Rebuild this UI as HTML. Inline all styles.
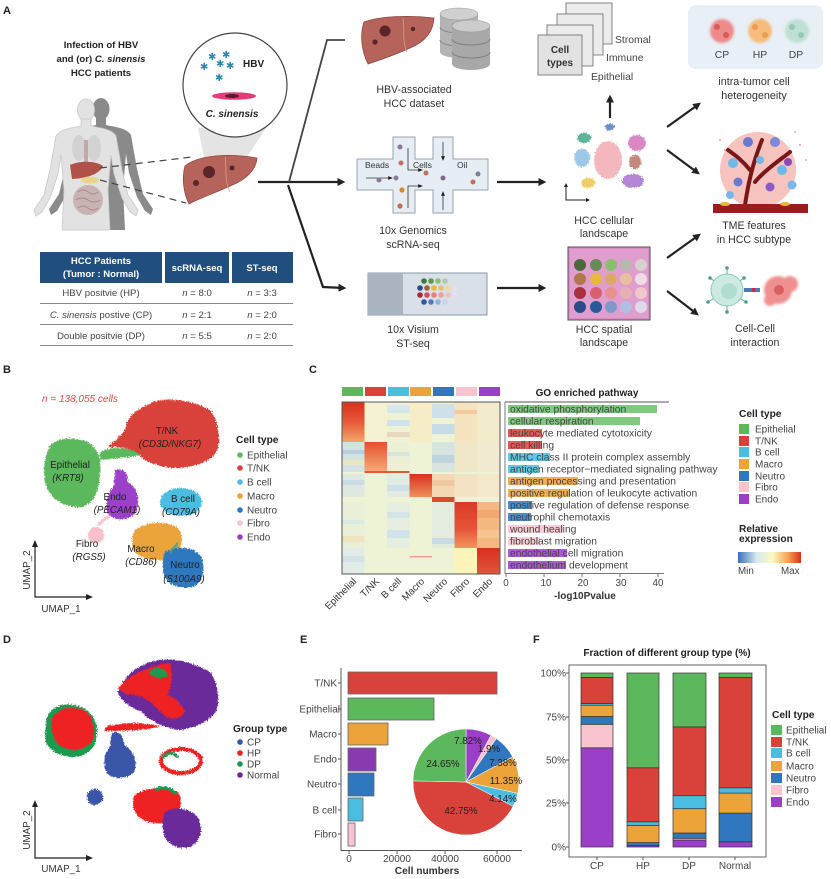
<!DOCTYPE html>
<html><head><meta charset="utf-8"><style>
html,body{margin:0;padding:0;background:#fff;}
svg{display:block;font-family:"Liberation Sans",Arial,sans-serif;}
</style></head><body>
<svg width="831" height="879" viewBox="0 0 831 879" xmlns="http://www.w3.org/2000/svg">
<defs>
<marker id="ah" viewBox="0 0 10 10" refX="7" refY="5" markerWidth="3.6" markerHeight="3.6" orient="auto"><path d="M0,0 L10,5 L0,10 z" fill="#222"/></marker>
<marker id="ahs" viewBox="0 0 10 10" refX="8" refY="5" markerWidth="6" markerHeight="6" orient="auto"><path d="M0,1 L10,5 L0,9 z" fill="#222"/></marker>
<filter id="grain" x="-15%" y="-15%" width="130%" height="130%"><feTurbulence type="fractalNoise" baseFrequency="0.8" numOctaves="1" seed="3" result="n"/><feDisplacementMap in="SourceGraphic" in2="n" scale="5" xChannelSelector="R" yChannelSelector="G"/></filter>
<filter id="soft"><feGaussianBlur stdDeviation="1.2"/></filter>
<linearGradient id="gEpi" x1="0" y1="0" x2="0" y2="1"><stop offset="0" stop-color="#d7301f"/><stop offset="0.5" stop-color="#e65a38"/><stop offset="1" stop-color="#f6a56c"/></linearGradient>
<linearGradient id="gTnk" x1="0" y1="0" x2="0" y2="1"><stop offset="0" stop-color="#e4502f"/><stop offset="1" stop-color="#f5ad78"/></linearGradient>
<linearGradient id="gMac" x1="0" y1="0" x2="0" y2="1"><stop offset="0" stop-color="#d7301f"/><stop offset="1" stop-color="#f0905a"/></linearGradient>
<linearGradient id="gFib" x1="0" y1="0" x2="0" y2="1"><stop offset="0" stop-color="#d93a26"/><stop offset="0.6" stop-color="#e6563a"/><stop offset="1" stop-color="#f2955c"/></linearGradient>
<linearGradient id="gEnd" x1="0" y1="0" x2="0" y2="1"><stop offset="0" stop-color="#d7301f"/><stop offset="1" stop-color="#e2553c"/></linearGradient>
<linearGradient id="gRel" x1="0" y1="0" x2="1" y2="0"><stop offset="0" stop-color="#3a6fb8"/><stop offset="0.3" stop-color="#d6ecf0"/><stop offset="0.55" stop-color="#fdf8c0"/><stop offset="0.8" stop-color="#f5a050"/><stop offset="1" stop-color="#d7301f"/></linearGradient>
</defs>

<!-- ================= PANEL A ================= -->
<text x="3" y="14" font-size="11" font-weight="bold" fill="#222">A</text>
<g font-size="9.6" font-weight="bold" fill="#222" text-anchor="middle">
<text x="101" y="48">Infection of HBV</text>
<text x="101" y="62">and (or) <tspan font-style="italic">C. sinensis</tspan></text>
<text x="101" y="76">HCC patients</text>
</g>

<!-- human figures -->
<g transform="translate(101,109)" fill="#8a8a8a">
<ellipse cx="0" cy="0" rx="8.5" ry="11"/>
<path d="M-5,9 L-5,16 C-14,18 -26,19 -30,26 L-36,60 L-42,85 L-52,100 L-50,106 L-44,102 L-36,88 L-28,64 L-25,45 L-22,80 L-24,121 L24,121 L22,80 L25,45 L28,64 L36,88 L44,102 L50,106 L52,100 L42,85 L36,60 L30,26 C26,19 14,18 5,16 L5,9 Z"/>
</g>
<g transform="translate(86,110)" fill="#e2e2e2" stroke="#c8c8c8" stroke-width="0.8">
<ellipse cx="0" cy="0" rx="8.5" ry="11"/>
<path d="M-5,9 L-5,16 C-14,18 -26,19 -30,26 L-36,60 L-42,85 L-52,100 L-50,106 L-44,102 L-36,88 L-28,64 L-25,45 L-22,80 L-24,120 L24,120 L22,80 L25,45 L28,64 L36,88 L44,102 L50,106 L52,100 L42,85 L36,60 L30,26 C26,19 14,18 5,16 L5,9 Z"/>
</g>
<ellipse cx="79" cy="148" rx="7" ry="13" fill="#d2d2d2"/>
<ellipse cx="94" cy="148" rx="7" ry="13" fill="#d2d2d2"/>
<rect x="84" y="140" width="4" height="30" fill="#c4a8a8"/>
<path d="M70,165 C80,160 97,161 103,166 C100,173 90,178 72,179 Z" fill="#b0524a"/>
<ellipse cx="90" cy="180" rx="9" ry="3.5" fill="#e8d48a"/>
<ellipse cx="88" cy="200" rx="15" ry="15" fill="#c9b4b4"/>
<path d="M78,192 q5,-4 10,0 t10,0 M76,200 q6,-4 12,0 t12,0 M78,208 q5,-4 10,0 t10,0" stroke="#a88" stroke-width="1" fill="none"/>

<!-- cone + circle -->
<polygon points="198,128 270,122 245,160 205,162" fill="#e4e4e4"/>
<circle cx="235" cy="85" r="52" fill="#fff" stroke="#444" stroke-width="1.2"/>
<g fill="#2a8aae" font-size="10" font-family="DejaVu Sans,sans-serif">
<text x="200" y="70">✱</text><text x="208" y="60">✱</text><text x="216" y="67">✱</text><text x="222" y="58">✱</text><text x="226" y="69">✱</text><text x="215" y="81">✱</text>
</g>
<text x="243" y="67" font-size="10" font-weight="bold" fill="#222">HBV</text>
<ellipse cx="234" cy="96" rx="22" ry="3.8" fill="#e43c78"/>
<ellipse cx="232" cy="96" rx="7" ry="2" fill="#5a1a2a"/>
<text x="232" y="117" font-size="10" font-weight="bold" font-style="italic" fill="#222" text-anchor="middle">C. sinensis</text>

<!-- liver -->
<path d="M185,166 C198,155 230,153 257,158 C256,170 246,180 230,186 C215,193 200,198 189,204 C183,192 182,177 185,166 Z" fill="#b6635b" stroke="#8e4842" stroke-width="0.8"/>
<path d="M225,157 C227,170 224,180 230,192" stroke="#d8a080" stroke-width="0.8" fill="none"/>
<circle cx="209" cy="172" r="6" fill="#5a2428"/><circle cx="196" cy="183" r="3" fill="#5a2428"/><circle cx="232" cy="168" r="2.5" fill="#5a2428"/>
<path d="M100,168 L192,157 M100,180 L186,203" stroke="#444" stroke-width="1.2" stroke-dasharray="7,5"/>

<!-- table -->
<rect x="40" y="252" width="122" height="31" fill="#1f4e7f"/>
<rect x="165" y="252" width="64" height="31" fill="#1f4e7f"/>
<rect x="232" y="252" width="61" height="31" fill="#1f4e7f"/>
<g fill="#fff" font-size="9.5" font-weight="bold" text-anchor="middle">
<text x="101" y="264">HCC Patients</text><text x="101" y="277">(Tumor : Normal)</text>
<text x="197" y="271">scRNA-seq</text><text x="262" y="271">ST-seq</text>
</g>
<g fill="#444" font-size="9.6" text-anchor="middle">
<text x="101" y="296">HBV positvie (HP)</text><text x="197" y="296"><tspan font-style="italic">n</tspan> = 8:0</text><text x="262" y="296"><tspan font-style="italic">n</tspan> = 3:3</text>
<text x="101" y="318"><tspan font-style="italic">C. sinensis</tspan> postive (CP)</text><text x="197" y="318"><tspan font-style="italic">n</tspan> = 2:1</text><text x="262" y="318"><tspan font-style="italic">n</tspan> = 2:0</text>
<text x="101" y="339">Double positvie (DP)</text><text x="197" y="339"><tspan font-style="italic">n</tspan> = 5:5</text><text x="262" y="339"><tspan font-style="italic">n</tspan> = 2:0</text>
</g>
<path d="M40,303.5 H293 M40,324.5 H293 M40,345.5 H293" stroke="#888" stroke-width="1"/>

<!-- main arrows -->
<g stroke="#222" stroke-width="2.2" fill="none">
<line x1="258" y1="182" x2="343" y2="182" marker-end="url(#ah)"/>
<polyline points="289,182 327,40 345,40" stroke="#444" stroke-width="1.8"/>
<polyline points="288,185 323,287 344,288" marker-end="url(#ah)"/>
<line x1="497" y1="182" x2="544" y2="182" marker-end="url(#ah)"/>
<line x1="497" y1="288" x2="544" y2="288" marker-end="url(#ah)"/>
<line x1="610" y1="118" x2="610" y2="97" marker-end="url(#ah)"/>
<line x1="667" y1="127" x2="699" y2="104" marker-end="url(#ah)"/>
<line x1="667" y1="150" x2="698" y2="173" marker-end="url(#ah)"/>
<line x1="667" y1="258" x2="699" y2="235" marker-end="url(#ah)"/>
<line x1="667" y1="291" x2="697" y2="314" marker-end="url(#ah)"/>
</g>

<!-- HBV dataset -->
<path d="M364,22 C380,16 410,15 434,18 C433,32 425,42 410,48 C395,55 380,60 368,64 C361,50 360,34 364,22 Z" fill="#b6635b" stroke="#8e4842" stroke-width="0.8"/>
<path d="M403,18 C405,32 402,42 407,52" stroke="#d8a080" stroke-width="0.8" fill="none"/>
<circle cx="385" cy="31" r="5.5" fill="#5a2428"/><circle cx="375" cy="42" r="2.6" fill="#5a2428"/><circle cx="413" cy="29" r="2.2" fill="#5a2428"/>
<g>
<path d="M440,14 v38 a19,6 0 0 0 38,0 v-38 z" fill="#b4b4b4"/>
<ellipse cx="459" cy="14" rx="19" ry="6" fill="#d0d0d0" stroke="#999" stroke-width="0.6"/>
<path d="M440,27 a19,6 0 0 0 38,0 M440,40 a19,6 0 0 0 38,0" stroke="#888" fill="none"/>
<path d="M452,26 v38 a19,6 0 0 0 38,0 v-38 z" fill="#a8a8a8"/>
<ellipse cx="471" cy="26" rx="19" ry="6" fill="#cccccc" stroke="#999" stroke-width="0.6"/>
<path d="M452,39 a19,6 0 0 0 38,0 M452,52 a19,6 0 0 0 38,0" stroke="#808080" fill="none"/>
</g>
<g font-size="10.6" fill="#333" text-anchor="middle">
<text x="414" y="93">HBV-associated</text><text x="414" y="107">HCC dataset</text>
</g>

<!-- 10x chip -->
<path d="M357,159 H393 V137 H415 V159 H433 V137 H453 V159 H488 V190 H453 V213 H433 V190 H415 V213 H393 V190 H357 Z" fill="#e6edf5" stroke="#9aa4b0" stroke-width="1"/>
<g font-size="8.5" fill="#333"><text x="365" y="168">Beads</text><text x="413" y="168">Cells</text><text x="457" y="168">Oil</text></g>
<g stroke="#333" stroke-width="0.8" fill="none">
<line x1="366" y1="178" x2="392" y2="178" marker-end="url(#ahs)"/>
<path d="M408,148 V170 H422" marker-end="url(#ahs)"/>
<path d="M408,208 V186 H422" marker-end="url(#ahs)"/>
<line x1="443" y1="142" x2="443" y2="160" marker-end="url(#ahs)"/>
<line x1="443" y1="210" x2="443" y2="192" marker-end="url(#ahs)"/>
</g>
<g>
<circle cx="400" cy="147" r="2.5" fill="#8a7a9a"/><circle cx="401" cy="163" r="2.5" fill="#c07060"/><circle cx="379" cy="180" r="2.5" fill="#8a7a9a"/><circle cx="396" cy="178" r="2.5" fill="#8a7a9a"/>
<circle cx="402" cy="190" r="2.6" fill="#d08830"/><circle cx="400" cy="206" r="2.6" fill="#c07050"/><circle cx="426" cy="173" r="2.5" fill="#c07060"/><circle cx="443" cy="178" r="2.5" fill="#7a6a8a"/>
<circle cx="478" cy="174" r="2.5" fill="#8a7a9a"/><circle cx="473" cy="182" r="2.5" fill="#c07060"/>
</g>
<g font-size="10.6" fill="#333" text-anchor="middle">
<text x="413" y="234">10x Genomics</text><text x="413" y="248">scRNA-seq</text>
</g>

<!-- visium slide -->
<rect x="368" y="273" width="119" height="42" fill="#d9e0e8" stroke="#8898a8" stroke-width="1"/>
<rect x="368" y="273" width="35" height="42" fill="#a9b4c0"/>
<g>
<circle cx="424" cy="281" r="2.8" fill="#3a7a3a"/><circle cx="431" cy="281" r="2.8" fill="#5a9a4a"/><circle cx="438" cy="281" r="2.8" fill="#8ac070"/><circle cx="445" cy="281" r="2.8" fill="#b8c8a8"/>
<circle cx="420" cy="288" r="2.8" fill="#2a4a8a"/><circle cx="427" cy="288" r="2.8" fill="#a86030"/><circle cx="434" cy="288" r="2.8" fill="#e8b840"/><circle cx="441" cy="288" r="2.8" fill="#e8c070"/><circle cx="448" cy="288" r="2.8" fill="#f0d8a0"/><circle cx="455" cy="288" r="2.8" fill="#e8e0e8"/>
<circle cx="420" cy="295" r="2.8" fill="#a82838"/><circle cx="427" cy="295" r="2.8" fill="#d05060"/><circle cx="434" cy="295" r="2.8" fill="#e88080"/><circle cx="441" cy="295" r="2.8" fill="#e8a0a0"/><circle cx="448" cy="295" r="2.8" fill="#f0c0c0"/><circle cx="455" cy="295" r="2.8" fill="#e8e0f0"/>
<circle cx="424" cy="302" r="2.8" fill="#2a5a98"/><circle cx="431" cy="302" r="2.8" fill="#5878b8"/><circle cx="438" cy="302" r="2.8" fill="#98b0d8"/><circle cx="445" cy="302" r="2.8" fill="#c8d4e8"/>
</g>
<g font-size="10.6" fill="#333" text-anchor="middle">
<text x="413" y="333">10x Visium</text><text x="413" y="347">ST-seq</text>
</g>

<!-- cell type cards -->
<g fill="#ececec" stroke="#777" stroke-width="0.9">
<rect x="566" y="3" width="46" height="41"/>
<rect x="557" y="14" width="46" height="41"/>
<rect x="547" y="25" width="46" height="41"/>
<rect x="538" y="35" width="44" height="40" fill="#e2e2e2"/>
</g>
<g font-size="10" font-weight="bold" fill="#333" text-anchor="middle"><text x="560" y="53">Cell</text><text x="560" y="66">types</text></g>
<g font-size="10.4" fill="#444"><text x="615" y="43">Stromal</text><text x="606" y="61">Immune</text><text x="591" y="80">Epithelial</text></g>

<!-- mini umap -->
<g filter="url(#grain)" opacity="0.75">
<ellipse cx="584" cy="138" rx="7" ry="5" fill="#2a9a7a"/>
<ellipse cx="610" cy="127" rx="5" ry="3.5" fill="#3a6ab8"/>
<ellipse cx="582" cy="158" rx="8" ry="9" fill="#7ab8e0"/>
<ellipse cx="608" cy="160" rx="14" ry="19" fill="#f0a0a8"/>
<ellipse cx="637" cy="143" rx="9" ry="8" fill="#d060b0"/>
<ellipse cx="635" cy="162" rx="6" ry="7" fill="#b06050"/>
<ellipse cx="633" cy="181" rx="11" ry="7" fill="#9a60c8"/>
<ellipse cx="588" cy="183" rx="7" ry="5" fill="#e8c030"/>
</g>
<path d="M566,185 V200 H588" stroke="#222" stroke-width="1" fill="none"/>
<path d="M564,187 L566,183 L568,187 Z M586,198 L590,200 L586,202 Z" fill="#222"/>
<g font-size="10.6" fill="#333" text-anchor="middle"><text x="604" y="224">HCC cellular</text><text x="604" y="237">landscape</text></g>

<!-- spatial image -->
<rect x="568" y="247" width="82" height="73" fill="#d88ec4" stroke="#555" stroke-width="1"/>
<rect x="570" y="249" width="78" height="69" fill="#e4a8d4" opacity="0.6"/>
<g>
<circle cx="580" cy="265" r="6" fill="#4a6a3c"/><circle cx="596" cy="265" r="6" fill="#6a8a5a"/><circle cx="611" cy="265" r="6" fill="#88c070"/><circle cx="626" cy="265" r="6" fill="#b8b8b0"/><circle cx="641" cy="265" r="6" fill="#d8d0cc"/>
<circle cx="580" cy="279" r="6" fill="#b07848"/><circle cx="596" cy="279" r="6" fill="#e8b840"/><circle cx="611" cy="279" r="6" fill="#e0a868"/><circle cx="626" cy="279" r="6" fill="#e8c0a0"/><circle cx="641" cy="279" r="6" fill="#f0dce4"/>
<circle cx="580" cy="293" r="6" fill="#a83040"/><circle cx="596" cy="293" r="6" fill="#d86070"/><circle cx="611" cy="293" r="6" fill="#e89090"/><circle cx="626" cy="293" r="6" fill="#e8b0b0"/><circle cx="641" cy="293" r="6" fill="#f0c8cc"/>
<circle cx="580" cy="307" r="6" fill="#2a4a88"/><circle cx="596" cy="307" r="6" fill="#2a5898"/><circle cx="611" cy="307" r="6" fill="#8098c8"/><circle cx="626" cy="307" r="6" fill="#b0c0e0"/><circle cx="641" cy="307" r="6" fill="#dcdce8"/>
</g>
<g font-size="10.6" fill="#333" text-anchor="middle"><text x="604" y="333">HCC spatial</text><text x="604" y="346">landscape</text></g>

<!-- heterogeneity box -->
<rect x="688" y="5" width="135" height="64" rx="8" fill="#e8eff6"/>
<g filter="url(#soft)">
<circle cx="722" cy="31" r="12" fill="#ee8a8a"/><circle cx="760" cy="31" r="12" fill="#f6bc7c"/><circle cx="797" cy="31" r="12" fill="#bfe0d4"/>
</g>
<g>
<circle cx="717" cy="27" r="3" fill="#d85a5a"/><circle cx="726" cy="35" r="3" fill="#d85a5a"/><circle cx="755" cy="27" r="3" fill="#e8a050"/><circle cx="765" cy="35" r="3" fill="#e8a050"/><circle cx="792" cy="27" r="3" fill="#98c8b8"/><circle cx="801" cy="35" r="3" fill="#98c8b8"/>
</g>
<g font-size="10.4" fill="#444" text-anchor="middle"><text x="722" y="58">CP</text><text x="760" y="58">HP</text><text x="796" y="58">DP</text></g>
<g font-size="10.8" fill="#333" text-anchor="middle"><text x="754" y="85">intra-tumor cell</text><text x="754" y="99">heterogeneity</text></g>

<!-- TME image -->
<circle cx="758" cy="170" r="38" fill="#f4b8b4" opacity="0.85"/>
<g fill="#d88080" opacity="0.6"><circle cx="725" cy="150" r="1.2"/><circle cx="800" cy="145" r="1.2"/><circle cx="806" cy="160" r="1"/><circle cx="720" cy="140" r="1"/><circle cx="795" cy="132" r="1"/></g>
<path d="M745,205 C748,185 752,165 762,140 M755,182 C765,170 780,160 790,152 M750,170 C742,160 735,155 728,150" stroke="#7a1818" stroke-width="4" fill="none" stroke-linecap="round"/>
<g>
<circle cx="748" cy="142" r="5" fill="#6a7ad0"/><circle cx="775" cy="142" r="5" fill="#7a8ad8"/><circle cx="733" cy="163" r="5" fill="#70b8e8"/><circle cx="782" cy="170" r="5" fill="#70b8e8"/><circle cx="770" cy="187" r="4.5" fill="#8a5ac8"/><circle cx="792" cy="185" r="4.5" fill="#7ab8e8"/><circle cx="738" cy="182" r="4.5" fill="#6a7ad0"/><circle cx="788" cy="162" r="4" fill="#8a4ab8"/><circle cx="760" cy="160" r="4" fill="#70b8e8"/><circle cx="730" cy="195" r="4" fill="#7ab8e8"/>
</g>
<rect x="713" y="204" width="95" height="9" fill="#9a1c1c"/>
<g fill="#e8b838"><ellipse cx="725" cy="204" rx="5" ry="2"/><ellipse cx="785" cy="204" rx="5" ry="2"/></g>
<g font-size="10.6" fill="#333" text-anchor="middle"><text x="754" y="229">TME features</text><text x="754" y="243">in  HCC subtype</text></g>

<!-- cell-cell -->
<g stroke="#5aa8a0" stroke-width="1"><line x1="727" y1="290" x2="727" y2="268"/><line x1="727" y1="290" x2="710" y2="278"/><line x1="727" y1="290" x2="744" y2="278"/><line x1="727" y1="290" x2="708" y2="302"/><line x1="727" y1="290" x2="746" y2="302"/><line x1="727" y1="290" x2="727" y2="312"/></g>
<g fill="#4a9a98"><circle cx="727" cy="268" r="1.8"/><circle cx="710" cy="278" r="1.8"/><circle cx="744" cy="278" r="1.8"/><circle cx="708" cy="302" r="1.8"/><circle cx="746" cy="302" r="1.8"/><circle cx="727" cy="312" r="1.8"/></g>
<circle cx="727" cy="290" r="16" fill="#cce9e2" stroke="#8ac8bc" stroke-width="1"/>
<circle cx="729" cy="291" r="8" fill="#b0dcd2"/>
<rect x="744" y="288" width="16" height="4" fill="#4a7ab8"/><rect x="752" y="288" width="3" height="4" fill="#c03040"/>
<g fill="#ef9090" filter="url(#soft)"><circle cx="778" cy="290" r="14"/><circle cx="790" cy="284" r="8"/><circle cx="770" cy="300" r="6"/></g>
<circle cx="779" cy="290" r="5" fill="#d86060"/>
<g font-size="10.6" fill="#333" text-anchor="middle"><text x="755" y="332">Cell-Cell</text><text x="755" y="346">interaction</text></g>

<!-- ================= PANEL B ================= -->
<text x="3" y="373" font-size="11" font-weight="bold" fill="#222">B</text>
<text x="42" y="402" font-size="10" font-style="italic" fill="#e04848"><tspan>n</tspan> = 138,055 cells</text>
<g filter="url(#grain)">
<path d="M125,428 C128,415 140,406 160,400 C180,398 200,404 210,410 C218,420 220,435 218,448 C214,460 200,466 178,468 C160,468 145,462 138,454 C130,448 120,447 108,447 C115,440 122,436 125,428 Z" fill="#d9423a"/>
<path d="M100,452 C112,446 128,446 140,455 C130,458 115,458 100,460 Z" fill="#5cb85c"/>
<path d="M48,450 C52,440 65,436 80,440 C95,442 102,455 100,470 C100,488 96,502 82,507 C66,508 52,500 47,488 C42,476 44,460 48,450 Z" fill="#5cb85c"/>
<path d="M115,470 C122,468 128,472 128,482 C138,488 140,500 136,512 C130,520 115,522 108,514 C104,505 108,492 114,486 Z" fill="#9b3fc8"/>
<ellipse cx="181" cy="502" rx="21" ry="14" fill="#4bbde0"/>
<path d="M135,530 C145,522 165,520 178,528 C185,535 182,552 172,558 C160,562 142,560 135,552 C131,545 131,536 135,530 Z" fill="#eba33a"/>
<path d="M165,552 C175,546 192,546 200,555 C206,565 204,580 195,586 C183,590 168,586 164,576 C162,568 162,558 165,552 Z" fill="#2f78c0"/>
<ellipse cx="96" cy="535" rx="8" ry="8" fill="#f7c0cc"/>
<path d="M98,525 L110,515" stroke="#f7c0cc" stroke-width="3"/>
<path d="M170,552 L178,543" stroke="#4aa880" stroke-width="2"/>
</g>
<g font-size="9.8" fill="#222" text-anchor="middle">
<text x="167" y="434">T/NK</text><text x="170" y="447" font-style="italic">(CD3D/NKG7)</text>
<text x="70" y="468">Epithelial</text><text x="68" y="481" font-style="italic">(KRT8)</text>
<text x="115" y="500">Endo</text><text x="117" y="513" font-style="italic">(PECAM1)</text>
<text x="183" y="502">B cell</text><text x="181" y="515" font-style="italic">(CD79A)</text>
<text x="141" y="552">Macro</text><text x="141" y="565" font-style="italic">(CD86)</text>
<text x="185" y="568">Neutro</text><text x="184" y="582" font-style="italic">(S100A9)</text>
<text x="87" y="547">Fibro</text><text x="89" y="560" font-style="italic">(RGS5)</text>
</g>
<path d="M35,545 V597 H88" stroke="#222" stroke-width="1.2" fill="none"/>
<path d="M32,547 L35,540 L38,547 Z M86,594 L93,597 L86,600 Z" fill="#222"/>
<text x="30" y="570" font-size="9.8" fill="#333" text-anchor="middle" transform="rotate(-90,30,570)">UMAP_2</text>
<text x="61" y="612" font-size="9.8" fill="#333" text-anchor="middle">UMAP_1</text>
<text x="236" y="443" font-size="10.2" font-weight="bold" fill="#222">Cell type</text>
<g font-size="10" fill="#444">
<circle cx="240" cy="455" r="2.8" fill="#5cb85c"/><text x="247" y="458.5">Epithelial</text>
<circle cx="240" cy="468" r="2.8" fill="#d9423a"/><text x="247" y="471.5">T/NK</text>
<circle cx="240" cy="482" r="2.8" fill="#4bbde0"/><text x="247" y="485.5">B cell</text>
<circle cx="240" cy="496" r="2.8" fill="#eba33a"/><text x="247" y="499.5">Macro</text>
<circle cx="240" cy="510" r="2.8" fill="#2f78c0"/><text x="247" y="513.5">Neutro</text>
<circle cx="240" cy="523" r="2.8" fill="#f7c0cc"/><text x="247" y="526.5">Fibro</text>
<circle cx="240" cy="537" r="2.8" fill="#9b3fc8"/><text x="247" y="540.5">Endo</text>
</g>

<!-- ================= PANEL C ================= -->
<text x="309" y="373" font-size="11" font-weight="bold" fill="#222">C</text>
<g>
<rect x="342" y="387" width="21" height="9" fill="#5cb85c"/>
<rect x="365" y="387" width="21" height="9" fill="#d9423a"/>
<rect x="388" y="387" width="21" height="9" fill="#4bbde0"/>
<rect x="410" y="387" width="21" height="9" fill="#eba33a"/>
<rect x="433" y="387" width="21" height="9" fill="#2f78c0"/>
<rect x="456" y="387" width="21" height="9" fill="#f9c4d0"/>
<rect x="479" y="387" width="21" height="9" fill="#9b3fc8"/>
</g>
<!-- heatmap -->
<rect x="342" y="402" width="158" height="172" fill="#eef3d6"/>
<g>
<rect x="364.5" y="402" width="22.5" height="40" fill="#f4f2d0"/>
<rect x="387" y="405" width="22.5" height="8" fill="#d6e6ea"/><rect x="387" y="420" width="22.5" height="6" fill="#d0e0ec"/><rect x="387" y="432" width="22.5" height="5" fill="#e8d8c0"/>
<rect x="409.5" y="402" width="22.5" height="40" fill="#f6edc8"/>
<rect x="432" y="404" width="22.5" height="14" fill="#cfe0ea"/><rect x="432" y="424" width="22.5" height="10" fill="#c8dce8"/>
<rect x="454.5" y="402" width="22.5" height="40" fill="#f6e4c0"/><rect x="454.5" y="410" width="22.5" height="4" fill="#f2c8a0"/>
<rect x="477" y="402" width="23" height="40" fill="#f3eccc"/>
<rect x="342" y="442" width="22.5" height="30" fill="#d4e2e2"/><rect x="342" y="450" width="22.5" height="4" fill="#b8d0dc"/><rect x="342" y="460" width="22.5" height="5" fill="#e8e6c4"/>
<rect x="387" y="442" width="22.5" height="30" fill="#ecf0d4"/><rect x="387" y="452" width="22.5" height="4" fill="#d8e4dc"/>
<rect x="432" y="442" width="22.5" height="30" fill="#d8e4e0"/><rect x="432" y="455" width="22.5" height="8" fill="#c0d4e0"/>
<rect x="454.5" y="442" width="22.5" height="30" fill="#f0e6c8"/><rect x="477" y="442" width="23" height="30" fill="#f2ead0"/>
<rect x="342" y="474" width="22.5" height="23" fill="#dfe9e2"/><rect x="342" y="480" width="22.5" height="5" fill="#cadce4"/>
<rect x="387" y="474" width="22.5" height="23" fill="#e2ece2"/><rect x="387" y="485" width="22.5" height="6" fill="#d0e0e8"/>
<rect x="432" y="474" width="22.5" height="23" fill="#f4d8b4"/><rect x="432" y="480" width="22.5" height="6" fill="#f0c8a4"/>
<rect x="454.5" y="474" width="22.5" height="23" fill="#f4e2c4"/><rect x="477" y="474" width="23" height="23" fill="#f4e8cc"/>
<rect x="342" y="502" width="22.5" height="46" fill="#eaf0d8"/><rect x="342" y="520" width="22.5" height="4" fill="#dce8e4"/><rect x="342" y="536" width="22.5" height="6" fill="#f0e4c0"/>
<rect x="387" y="502" width="22.5" height="46" fill="#e6eee0"/><rect x="387" y="512" width="22.5" height="6" fill="#d4e4e8"/><rect x="387" y="530" width="22.5" height="8" fill="#d0e2ea"/>
<rect x="432" y="502" width="22.5" height="46" fill="#e4ece0"/><rect x="432" y="538" width="22.5" height="6" fill="#c8dce6"/>
<rect x="477" y="502" width="23" height="46" fill="#f4b880"/><rect x="477" y="510" width="23" height="8" fill="#f2a870"/><rect x="477" y="530" width="23" height="8" fill="#f6c490"/>
<rect x="342" y="548" width="22.5" height="26" fill="#e2ece6"/><rect x="342" y="556" width="22.5" height="6" fill="#d4e2e6"/>
<rect x="454.5" y="548" width="22.5" height="26" fill="#fcf4b8"/>
<rect x="409.5" y="556" width="22.5" height="1.5" fill="#e8a0a0"/>
<rect x="342" y="402" width="22.5" height="40" fill="url(#gEpi)"/>
<rect x="364.5" y="442" width="22.5" height="30" fill="url(#gTnk)"/>
<rect x="364.5" y="471" width="45" height="2" fill="#e05a3a"/>
<rect x="409.5" y="474" width="22.5" height="23" fill="url(#gMac)"/>
<rect x="432" y="497" width="22.5" height="5" fill="#d94a30"/>
<rect x="454.5" y="502" width="22.5" height="46" fill="url(#gFib)"/>
<rect x="477" y="548" width="23" height="26" fill="url(#gEnd)"/>
</g>
<rect x="342" y="402" width="158" height="172" fill="none" stroke="#555" stroke-width="1"/>
<g font-size="9.8" fill="#333" text-anchor="end">
<text x="357" y="582" transform="rotate(-45,357,582)">Epithelial</text>
<text x="380" y="582" transform="rotate(-45,380,582)">T/NK</text>
<text x="402" y="582" transform="rotate(-45,402,582)">B cell</text>
<text x="425" y="582" transform="rotate(-45,425,582)">Macro</text>
<text x="448" y="582" transform="rotate(-45,448,582)">Neutro</text>
<text x="470" y="582" transform="rotate(-45,470,582)">Fibro</text>
<text x="493" y="582" transform="rotate(-45,493,582)">Endo</text>
</g>

<!-- GO bars -->
<text x="587" y="396" font-size="10" font-weight="bold" fill="#222" text-anchor="middle">GO enriched pathway</text>
<line x1="505" y1="402" x2="669" y2="402" stroke="#777" stroke-width="1.2"/>
<line x1="505" y1="402" x2="505" y2="574" stroke="#777" stroke-width="1"/>
<line x1="505" y1="573.5" x2="664" y2="573.5" stroke="#777" stroke-width="1"/>
<g stroke="#777"><line x1="506" y1="574" x2="506" y2="577"/><line x1="544" y1="574" x2="544" y2="577"/><line x1="582" y1="574" x2="582" y2="577"/><line x1="620" y1="574" x2="620" y2="577"/><line x1="658" y1="574" x2="658" y2="577"/></g>
<g font-size="9.8" fill="#444" text-anchor="middle"><text x="506" y="586">0</text><text x="546" y="586">10</text><text x="583" y="586">20</text><text x="621" y="586">30</text><text x="658" y="586">40</text></g>
<text x="585" y="599" font-size="10" font-weight="bold" fill="#333" text-anchor="middle">-log10Pvalue</text>
<g opacity="0.85">
<rect x="508" y="405" width="149" height="8" fill="#6cc06c"/>
<rect x="508" y="417" width="132" height="8" fill="#6cc06c"/>
<rect x="508" y="429" width="34" height="8" fill="#d9423a"/>
<rect x="508" y="441" width="34" height="8" fill="#d9423a"/>
<rect x="508" y="453" width="42" height="8" fill="#4bbde0"/>
<rect x="508" y="465" width="31" height="8" fill="#4bbde0"/>
<rect x="508" y="477" width="70" height="8" fill="#eba33a"/>
<rect x="508" y="489" width="62" height="8" fill="#eba33a"/>
<rect x="508" y="501" width="24" height="8" fill="#2f78c0"/>
<rect x="508" y="513" width="23" height="8" fill="#2f78c0"/>
<rect x="508" y="525" width="55" height="8" fill="#f9c4d0"/>
<rect x="508" y="537" width="32" height="8" fill="#f9c4d0"/>
<rect x="508" y="549" width="59" height="8" fill="#9b3fc8"/>
<rect x="508" y="561" width="58" height="8" fill="#9b3fc8"/>
</g>
<g font-size="10.3" fill="#444">
<text x="510" y="412.5">oxidative phosphorylation</text>
<text x="510" y="424.5">cellular respiration</text>
<text x="510" y="436.5">leukocyte mediated cytotoxicity</text>
<text x="510" y="448.5">cell killing</text>
<text x="510" y="460.5">MHC class II protein complex assembly</text>
<text x="510" y="472.5">antigen receptor−mediated signaling pathway</text>
<text x="510" y="484.5">antigen processing and presentation</text>
<text x="510" y="496.5">positive regulation of leukocyte activation</text>
<text x="510" y="508.5">positive regulation of defense response</text>
<text x="510" y="520.5">neutrophil chemotaxis</text>
<text x="510" y="532.5">wound healing</text>
<text x="510" y="544.5">fibroblast migration</text>
<text x="510" y="556.5">endothelial cell migration</text>
<text x="510" y="568.5">endothelium development</text>
</g>
<text x="739" y="417" font-size="10.2" font-weight="bold" fill="#222">Cell type</text>
<g font-size="10" fill="#444">
<rect x="739" y="424" width="10" height="10" fill="#5cb85c"/><text x="755" y="432.5">Epithelial</text>
<rect x="739" y="436" width="10" height="10" fill="#d9423a"/><text x="755" y="444.5">T/NK</text>
<rect x="739" y="447" width="10" height="10" fill="#4bbde0"/><text x="755" y="455.5">B cell</text>
<rect x="739" y="459" width="10" height="10" fill="#eba33a"/><text x="755" y="467.5">Macro</text>
<rect x="739" y="471" width="10" height="10" fill="#2f78c0"/><text x="755" y="479.5">Neutro</text>
<rect x="739" y="482" width="10" height="10" fill="#f9c4d0"/><text x="755" y="490.5">Fibro</text>
<rect x="739" y="494" width="10" height="10" fill="#9b3fc8"/><text x="755" y="502.5">Endo</text>
</g>
<g font-size="10.2" font-weight="bold" fill="#222"><text x="739" y="532">Relative</text><text x="739" y="542">expression</text></g>
<rect x="738" y="552" width="63" height="11" fill="url(#gRel)"/>
<g font-size="9.8" fill="#444"><text x="738" y="574">Min</text><text x="781" y="574">Max</text></g>

<!-- ================= PANEL D ================= -->
<text x="3" y="643" font-size="11" font-weight="bold" fill="#222">D</text>
<g filter="url(#grain)">
<path d="M120,688 C128,670 145,662 160,660 C180,658 198,665 210,672 C218,682 220,700 216,712 C208,722 195,728 180,730 C165,728 150,722 142,712 C130,708 120,700 118,692 Z" fill="#6a2a9a"/>
<path d="M118,688 C128,675 150,665 170,663 C175,680 168,700 160,712 C150,700 140,694 125,694 Z" fill="#ee2020"/>
<path d="M160,700 C168,690 180,700 185,712 C178,722 165,720 160,710 Z" fill="#ee2020"/>
<path d="M150,670 C158,665 166,668 168,676 C162,680 155,678 150,674 Z" fill="#1a9a50"/>
<path d="M105,727 C120,722 140,722 160,726 C150,730 125,731 105,731 Z" fill="#ee2020"/>
<path d="M46,720 C50,706 64,702 78,706 C92,710 98,722 97,735 C96,748 88,756 74,757 C60,757 48,750 45,740 Z" fill="#1a9a50"/>
<path d="M52,718 C58,708 72,706 84,710 C94,716 96,730 92,742 C85,750 70,752 60,746 C52,738 50,728 52,718 Z" fill="#ee2020"/>
<path d="M112,733 C120,730 124,738 124,745 C134,750 138,762 134,772 C126,780 112,780 106,772 C102,762 106,752 110,746 Z" fill="#3a55a8"/>
<ellipse cx="95" cy="797" rx="8" ry="8" fill="#3a55a8"/>
<ellipse cx="181" cy="761" rx="20" ry="12" fill="none" stroke="#ee2020" stroke-width="4"/>
<path d="M162,758 C168,752 175,752 178,758" stroke="#1a9a50" stroke-width="3" fill="none"/>
<path d="M135,795 C145,787 165,786 178,792 C184,800 180,815 170,822 C158,826 142,822 136,814 C132,806 132,800 135,795 Z" fill="#ee2020"/>
<path d="M165,812 C175,806 192,808 198,818 C204,830 200,842 190,847 C178,850 168,845 164,835 C162,828 162,818 165,812 Z" fill="#6a2a9a"/>
<path d="M155,790 C162,786 172,788 176,794" stroke="#1a9a50" stroke-width="3" fill="none"/>
</g>
<path d="M35,805 V858 H88" stroke="#222" stroke-width="1.2" fill="none"/>
<path d="M32,807 L35,800 L38,807 Z M86,855 L93,858 L86,861 Z" fill="#222"/>
<text x="30" y="830" font-size="9.8" fill="#333" text-anchor="middle" transform="rotate(-90,30,830)">UMAP_2</text>
<text x="61" y="872" font-size="9.8" fill="#333" text-anchor="middle">UMAP_1</text>
<text x="233" y="732" font-size="10.2" font-weight="bold" fill="#222">Group type</text>
<g font-size="10" fill="#444">
<circle cx="240" cy="742" r="2.8" fill="#3a55a8"/><text x="247" y="745.5">CP</text>
<circle cx="240" cy="753" r="2.8" fill="#ee2020"/><text x="247" y="756.5">HP</text>
<circle cx="240" cy="764" r="2.8" fill="#1a9a50"/><text x="247" y="767.5">DP</text>
<circle cx="240" cy="775" r="2.8" fill="#6a2a9a"/><text x="247" y="778.5">Normal</text>
</g>

<!-- ================= PANEL E ================= -->
<text x="300" y="643" font-size="11" font-weight="bold" fill="#222">E</text>
<path d="M341,668 V850.5 H522" stroke="#555" stroke-width="1" fill="none"/>
<g stroke="#666" stroke-width="0.8">
<rect x="348" y="672" width="149" height="22" fill="#d9423a"/>
<rect x="348" y="698" width="86" height="22" fill="#5cb85c"/>
<rect x="348" y="723" width="40" height="22" fill="#eba33a"/>
<rect x="348" y="748" width="28" height="23" fill="#8a3ab0"/>
<rect x="348" y="773" width="26" height="23" fill="#2f78c0"/>
<rect x="348" y="798" width="15" height="23" fill="#4bbde0"/>
<rect x="348" y="823" width="7" height="23" fill="#f9c4d0"/>
</g>
<g stroke="#555"><line x1="338" y1="683" x2="341" y2="683"/><line x1="338" y1="709" x2="341" y2="709"/><line x1="338" y1="734" x2="341" y2="734"/><line x1="338" y1="759" x2="341" y2="759"/><line x1="338" y1="784" x2="341" y2="784"/><line x1="338" y1="810" x2="341" y2="810"/><line x1="338" y1="834" x2="341" y2="834"/>
<line x1="349" y1="851" x2="349" y2="854"/><line x1="397" y1="851" x2="397" y2="854"/><line x1="445" y1="851" x2="445" y2="854"/><line x1="497" y1="851" x2="497" y2="854"/></g>
<g font-size="10" fill="#444" text-anchor="end">
<text x="337" y="686.5">T/NK</text><text x="340" y="712.5">Epithelial</text><text x="337" y="737.5">Macro</text><text x="337" y="762.5">Endo</text><text x="337" y="787.5">Neutro</text><text x="337" y="813.5">B cell</text><text x="337" y="837.5">Fibro</text>
</g>
<g font-size="10" fill="#444" text-anchor="middle"><text x="349" y="862">0</text><text x="397" y="862">20000</text><text x="445" y="862">40000</text><text x="497" y="862">60000</text></g>
<text x="427" y="874" font-size="10.2" font-weight="bold" fill="#333" text-anchor="middle">Cell numbers</text>
<g stroke="#fff" stroke-width="0.5">
<path d="M466,782 L466,729 A53,53 0 0 1 491.0,735.27 Z" fill="#9b3fc8"/>
<path d="M466,782 L491.0,735.27 A53,53 0 0 1 496.4,738.58 Z" fill="#f9c4d0"/>
<path d="M466,782 L496.4,738.58 A53,53 0 0 1 512.61,756.76 Z" fill="#2f78c0"/>
<path d="M466,782 L512.61,756.76 A53,53 0 0 1 517.76,793.4 Z" fill="#eba33a"/>
<path d="M466,782 L517.76,793.4 A53,53 0 0 1 513.09,806.33 Z" fill="#4bbde0"/>
<path d="M466,782 L513.09,806.33 A53,53 0 0 1 413.01,780.87 Z" fill="#d9423a"/>
<path d="M466,782 L413.01,780.87 A53,53 0 0 1 466,729 Z" fill="#5cb85c"/>
</g>
<g font-size="9.8" fill="#222" text-anchor="middle">
<text x="468" y="744">7.82%</text><text x="489" y="752">1.9%</text><text x="443" y="767">24.65%</text><text x="503" y="766">7.38%</text><text x="506" y="784">11.35%</text><text x="503" y="802">4.14%</text><text x="461" y="814">42.75%</text>
</g>

<!-- ================= PANEL F ================= -->
<text x="533" y="643" font-size="11" font-weight="bold" fill="#222">F</text>
<text x="667" y="656" font-size="10" font-weight="bold" fill="#222" text-anchor="middle">Fraction of different group type (%)</text>
<rect x="569" y="665" width="197" height="192" fill="none" stroke="#666" stroke-width="1"/>
<g font-size="10" fill="#444" text-anchor="end">
<text x="566" y="676.5">100%</text><text x="566" y="720.5">75%</text><text x="566" y="763.5">50%</text><text x="566" y="806.5">25%</text><text x="566" y="850.5">0%</text>
</g>
<g stroke="#555"><line x1="566" y1="673" x2="569" y2="673"/><line x1="566" y1="717" x2="569" y2="717"/><line x1="566" y1="760" x2="569" y2="760"/><line x1="566" y1="803" x2="569" y2="803"/><line x1="566" y1="847" x2="569" y2="847"/>
<line x1="597" y1="857" x2="597" y2="860"/><line x1="643" y1="857" x2="643" y2="860"/><line x1="689" y1="857" x2="689" y2="860"/><line x1="735" y1="857" x2="735" y2="860"/></g>
<g stroke="#333" stroke-width="0.7">
<rect x="581" y="747.8" width="32" height="99.2" fill="#9b3fc8"/>
<rect x="581" y="724.3" width="32" height="23.5" fill="#f9c4d0"/>
<rect x="581" y="716.5" width="32" height="7.8" fill="#2f78c0"/>
<rect x="581" y="705.2" width="32" height="11.3" fill="#eba33a"/>
<rect x="581" y="703.4" width="32" height="1.8" fill="#4bbde0"/>
<rect x="581" y="677.4" width="32" height="26" fill="#d9423a"/>
<rect x="581" y="673" width="32" height="4.4" fill="#5cb85c"/>
<rect x="627" y="845.6" width="32" height="1.4" fill="#9b3fc8"/>
<rect x="627" y="842.6" width="32" height="3" fill="#2f78c0"/>
<rect x="627" y="825.3" width="32" height="17.3" fill="#eba33a"/>
<rect x="627" y="821.8" width="32" height="3.5" fill="#4bbde0"/>
<rect x="627" y="767.8" width="32" height="54" fill="#d9423a"/>
<rect x="627" y="673" width="32" height="94.8" fill="#5cb85c"/>
<rect x="673" y="840" width="33" height="7" fill="#9b3fc8"/>
<rect x="673" y="838.3" width="33" height="1.7" fill="#f9c4d0"/>
<rect x="673" y="833" width="33" height="5.3" fill="#2f78c0"/>
<rect x="673" y="808.7" width="33" height="24.3" fill="#eba33a"/>
<rect x="673" y="795.7" width="33" height="13" fill="#4bbde0"/>
<rect x="673" y="726.9" width="33" height="68.8" fill="#d9423a"/>
<rect x="673" y="673" width="33" height="53.9" fill="#5cb85c"/>
<rect x="719" y="841.8" width="33" height="5.2" fill="#9b3fc8"/>
<rect x="719" y="813.1" width="33" height="28.7" fill="#2f78c0"/>
<rect x="719" y="793.1" width="33" height="20" fill="#eba33a"/>
<rect x="719" y="787.8" width="33" height="5.3" fill="#4bbde0"/>
<rect x="719" y="677.5" width="33" height="110.3" fill="#d9423a"/>
<rect x="719" y="673" width="33" height="4.5" fill="#5cb85c"/>
</g>
<g font-size="10" fill="#444" text-anchor="middle"><text x="597" y="869">CP</text><text x="643" y="869">HP</text><text x="689" y="869">DP</text><text x="735" y="869">Normal</text></g>
<text x="772" y="718" font-size="10.2" font-weight="bold" fill="#222">Cell type</text>
<g font-size="10" fill="#444">
<rect x="771" y="725" width="11" height="10" fill="#5cb85c"/><text x="786" y="733.5">Epithelial</text>
<rect x="771" y="737" width="11" height="10" fill="#d9423a"/><text x="786" y="745.5">T/NK</text>
<rect x="771" y="748" width="11" height="10" fill="#4bbde0"/><text x="786" y="756.5">B cell</text>
<rect x="771" y="761" width="11" height="10" fill="#eba33a"/><text x="786" y="769.5">Macro</text>
<rect x="771" y="773" width="11" height="10" fill="#2f78c0"/><text x="786" y="781.5">Neutro</text>
<rect x="771" y="785" width="11" height="10" fill="#f9c4d0"/><text x="786" y="793.5">Fibro</text>
<rect x="771" y="797" width="11" height="10" fill="#9b3fc8"/><text x="786" y="805.5">Endo</text>
</g>
</svg>
</body></html>
